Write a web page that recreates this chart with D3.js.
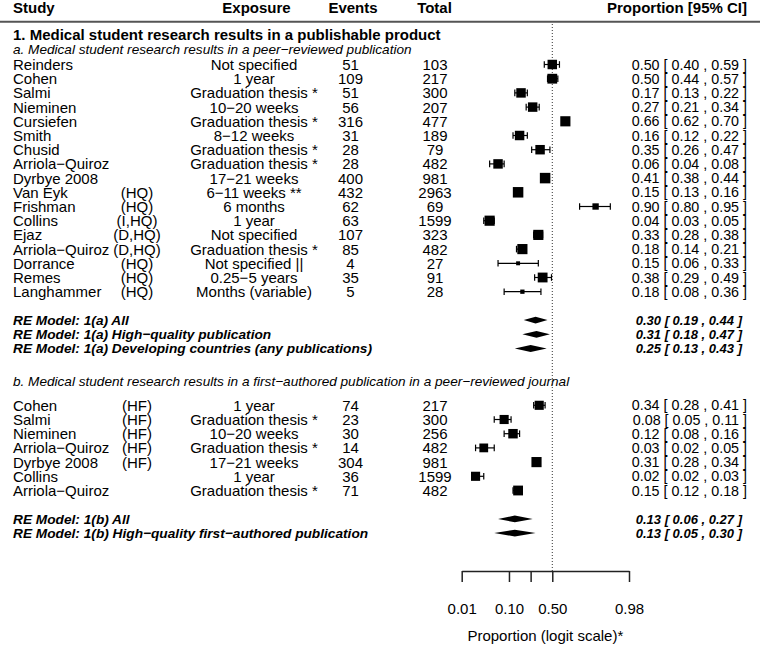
<!DOCTYPE html>
<html>
<head>
<meta charset="utf-8">
<script src="https://cdn.jsdelivr.net/npm/d3@7"></script>
<style>
  body { margin: 0; background: #fff; }
  svg { display: block; font-family: "Liberation Sans", Arial, sans-serif; }
</style>
</head>
<body>
<svg id="viz" width="760" height="653"></svg>
<script>
// 1(a) peer-reviewed publication
var studyA = ["Reinders", "Cohen", "Salmi", "Nieminen", "Cursiefen", "Smith", "Chusid",
  "Arriola\u2212Quiroz", "Dyrbye 2008", "Van Eyk", "Frishman", "Collins", "Ejaz",
  "Arriola\u2212Quiroz", "Dorrance", "Remes", "Langhammer"];
var qualA = ["", "", "", "", "", "", "", "", "", "(HQ)", "(HQ)", "(I,HQ)", "(D,HQ)",
  "(D,HQ)", "(HQ)", "(HQ)", "(HQ)"];
var exposureA = ["Not specified", "1 year", "Graduation thesis *", "10\u221220 weeks",
  "Graduation thesis *", "8\u221212 weeks", "Graduation thesis *", "Graduation thesis *",
  "17\u221221 weeks", "6\u221211 weeks **", "6 months", "1 year", "Not specified",
  "Graduation thesis *", "Not specified ||", "0.25\u22125 years", "Months (variable)"];
var eventsA = [51, 109, 51, 56, 316, 31, 28, 28, 400, 432, 62, 63, 107, 85, 4, 35, 5];
var totalA = [103, 217, 300, 207, 477, 189, 79, 482, 981, 2963, 69, 1599, 323, 482, 27, 91, 28];
var estA = [0.50, 0.50, 0.17, 0.27, 0.66, 0.16, 0.35, 0.06, 0.41, 0.15, 0.90, 0.04, 0.33, 0.18, 0.15, 0.38, 0.18];
var lbA = [0.40, 0.44, 0.13, 0.21, 0.62, 0.12, 0.26, 0.04, 0.38, 0.13, 0.80, 0.03, 0.28, 0.14, 0.06, 0.29, 0.08];
var ubA = [0.59, 0.57, 0.22, 0.34, 0.70, 0.22, 0.47, 0.08, 0.44, 0.16, 0.95, 0.05, 0.38, 0.21, 0.33, 0.49, 0.36];
var weightA = [1.35, 1.4, 1.35, 1.35, 1.45, 1.35, 1.35, 1.35, 1.5, 1.5, 0.9, 1.45, 1.45, 1.45, 0.55, 1.4, 0.6];

var reLabelA = ["RE Model: 1(a) All", "RE Model: 1(a) High\u2212quality publication",
  "RE Model: 1(a) Developing countries (any publications)"];
var reEstA = [0.30, 0.31, 0.25];
var reLbA = [0.19, 0.18, 0.13];
var reUbA = [0.44, 0.47, 0.43];

// 1(b) first-authored publication
var studyB = ["Cohen", "Salmi", "Nieminen", "Arriola\u2212Quiroz", "Dyrbye 2008", "Collins", "Arriola\u2212Quiroz"];
var qualB = ["(HF)", "(HF)", "(HF)", "(HF)", "(HF)", "", ""];
var exposureB = ["1 year", "Graduation thesis *", "10\u221220 weeks", "Graduation thesis *",
  "17\u221221 weeks", "1 year", "Graduation thesis *"];
var eventsB = [74, 23, 30, 14, 304, 36, 71];
var totalB = [217, 300, 256, 482, 981, 1599, 482];
var estB = [0.34, 0.08, 0.12, 0.03, 0.31, 0.02, 0.15];
var lbB = [0.28, 0.05, 0.08, 0.02, 0.28, 0.02, 0.12];
var ubB = [0.41, 0.11, 0.16, 0.05, 0.34, 0.03, 0.18];
var weightB = [1.3, 1.3, 1.35, 1.25, 1.45, 1.3, 1.4];

var reLabelB = ["RE Model: 1(b) All", "RE Model: 1(b) High\u2212quality first\u2212authored publication"];
var reEstB = [0.13, 0.13];
var reLbB = [0.06, 0.05];
var reUbB = [0.27, 0.30];

var tickValues = [0.01, 0.10, 0.25, 0.50, 0.98];
var tickLabels = ["0.01", "0.10", "", "0.50", "0.98"];

function logit(p) {
  return Math.log(p / (1 - p));
}

function ciText(est, lb, ub) {
  return est.toFixed(2) + " [ " + lb.toFixed(2) + " , " + ub.toFixed(2) + " ]";
}

function drawForest() {
  var svg = d3.select("#viz");
  var xl = d3.scaleLinear().domain([logit(0.01), logit(0.98)]).range([461.7, 629]);
  var x = function (p) { return xl(logit(p)); };
  var y = d3.scaleLinear().domain([0, 1]).range([64.5, 78.7]);
  var size = d3.scaleLinear().domain([0.5, 1.5]).range([3.6, 10.5]);
  var axisY = 571;
  var cap = 3.3;

  var rows = [];
  studyA.forEach(function (s, i) {
    rows.push({ row: i, study: s, qual: qualA[i], exposure: exposureA[i], events: eventsA[i],
      total: totalA[i], est: estA[i], lb: lbA[i], ub: ubA[i], w: weightA[i] });
  });
  studyB.forEach(function (s, i) {
    rows.push({ row: 24 + i, study: s, qual: qualB[i], exposure: exposureB[i], events: eventsB[i],
      total: totalB[i], est: estB[i], lb: lbB[i], ub: ubB[i], w: weightB[i] });
  });
  var models = [];
  reLabelA.forEach(function (l, i) {
    models.push({ row: 18 + i, label: l, est: reEstA[i], lb: reLbA[i], ub: reUbA[i] });
  });
  reLabelB.forEach(function (l, i) {
    models.push({ row: 32 + i, label: l, est: reEstB[i], lb: reLbB[i], ub: reUbB[i] });
  });

  // header
  var head = svg.append("g").attr("font-weight", "bold").attr("font-size", 15);
  head.append("text").attr("x", 13).attr("y", y(-4)).attr("dy", "0.36em").text("Study");
  head.append("text").attr("x", 256.5).attr("y", y(-4)).attr("dy", "0.36em")
    .attr("text-anchor", "middle").text("Exposure");
  head.append("text").attr("x", 353).attr("y", y(-4)).attr("dy", "0.36em")
    .attr("text-anchor", "middle").text("Events");
  head.append("text").attr("x", 434.5).attr("y", y(-4)).attr("dy", "0.36em")
    .attr("text-anchor", "middle").text("Total");
  head.append("text").attr("x", 747).attr("y", y(-4)).attr("dy", "0.36em")
    .attr("text-anchor", "end").text("Proportion [95% CI]");

  svg.append("line")
    .attr("x1", 0).attr("x2", 760).attr("y1", 21.7).attr("y2", 21.7)
    .attr("stroke", "#555").attr("stroke-width", 2);

  svg.append("text").attr("x", 13).attr("y", y(-2.1)).attr("dy", "0.36em")
    .attr("font-size", 15).attr("font-weight", "bold")
    .text("1. Medical student research results in a publishable product");
  svg.append("text").attr("x", 13).attr("y", y(-1.05)).attr("dy", "0.36em")
    .attr("font-size", 13.6).attr("font-style", "italic")
    .text("a. Medical student research results in a peer\u2212reviewed publication");
  svg.append("text").attr("x", 13).attr("y", y(22.3)).attr("dy", "0.36em")
    .attr("font-size", 13.6).attr("font-style", "italic")
    .text("b. Medical student research results in a first\u2212authored publication in a peer\u2212reviewed journal");

  // reference line at 0.5
  svg.append("line")
    .attr("x1", x(0.5)).attr("x2", x(0.5)).attr("y1", 24).attr("y2", axisY)
    .attr("stroke", "#333").attr("stroke-width", 1).attr("stroke-dasharray", "1,2");

  // study rows
  var study = svg.append("g").selectAll("g").data(rows).enter().append("g")
    .attr("transform", function (d) { return "translate(0," + y(d.row) + ")"; })
    .attr("font-size", 15);
  study.append("text").attr("x", 13).attr("dy", "0.36em").text(function (d) { return d.study; });
  study.append("text").attr("x", 137).attr("dy", "0.36em").attr("text-anchor", "middle")
    .text(function (d) { return d.qual; });
  study.append("text").attr("x", 254).attr("dy", "0.36em").attr("text-anchor", "middle")
    .text(function (d) { return d.exposure; });
  study.append("text").attr("x", 350.5).attr("dy", "0.36em").attr("text-anchor", "middle")
    .text(function (d) { return d.events; });
  study.append("text").attr("x", 435).attr("dy", "0.36em").attr("text-anchor", "middle")
    .text(function (d) { return d.total; });
  study.append("text").attr("x", 747).attr("dy", "0.36em").attr("text-anchor", "end")
    .attr("font-size", 14.3)
    .text(function (d) { return ciText(d.est, d.lb, d.ub); });

  var ci = study.append("g").attr("stroke", "#000").attr("stroke-width", 1.2);
  ci.append("line")
    .attr("x1", function (d) { return x(d.lb); })
    .attr("x2", function (d) { return x(d.ub); });
  ci.append("line")
    .attr("x1", function (d) { return x(d.lb); })
    .attr("x2", function (d) { return x(d.lb); })
    .attr("y1", -cap).attr("y2", cap);
  ci.append("line")
    .attr("x1", function (d) { return x(d.ub); })
    .attr("x2", function (d) { return x(d.ub); })
    .attr("y1", -cap).attr("y2", cap);
  study.append("rect")
    .attr("x", function (d) { return x(d.est) - size(d.w) / 2; })
    .attr("y", function (d) { return -size(d.w) / 2; })
    .attr("width", function (d) { return size(d.w); })
    .attr("height", function (d) { return size(d.w); })
    .attr("fill", "#000");

  // pooled estimates
  var model = svg.append("g").selectAll("g").data(models).enter().append("g")
    .attr("transform", function (d) { return "translate(0," + y(d.row) + ")"; })
    .attr("font-weight", "bold").attr("font-style", "italic");
  model.append("text").attr("x", 13).attr("dy", "0.36em").attr("font-size", 13.7)
    .text(function (d) { return d.label; });
  model.append("text").attr("x", 742).attr("dy", "0.36em").attr("text-anchor", "end")
    .attr("font-size", 13)
    .text(function (d) { return ciText(d.est, d.lb, d.ub); });
  model.append("path")
    .attr("fill", "#000")
    .attr("d", function (d) {
      return "M" + x(d.lb) + ",0L" + x(d.est) + ",-3.4L" + x(d.ub) + ",0L" + x(d.est) + ",3.4Z";
    });

  // x axis
  var axis = svg.append("g")
    .attr("transform", "translate(0," + axisY + ")")
    .call(d3.axisBottom(xl)
      .tickValues(tickValues.map(logit))
      .tickFormat(function (d, i) { return tickLabels[i]; })
      .tickSize(11)
      .tickSizeOuter(0)
      .tickPadding(21.5));
  axis.selectAll("path, line").attr("stroke", "#222").attr("stroke-width", 1.5);
  axis.selectAll("text").attr("font-size", 15).attr("fill", "#000")
    .attr("font-family", "Liberation Sans, Arial, sans-serif");

  svg.append("text")
    .attr("x", (xl.range()[0] + xl.range()[1]) / 2).attr("y", 636).attr("dy", "0.36em")
    .attr("text-anchor", "middle").attr("font-size", 15)
    .text("Proportion (logit scale)*");
}

drawForest();
</script>
</body>
</html>
